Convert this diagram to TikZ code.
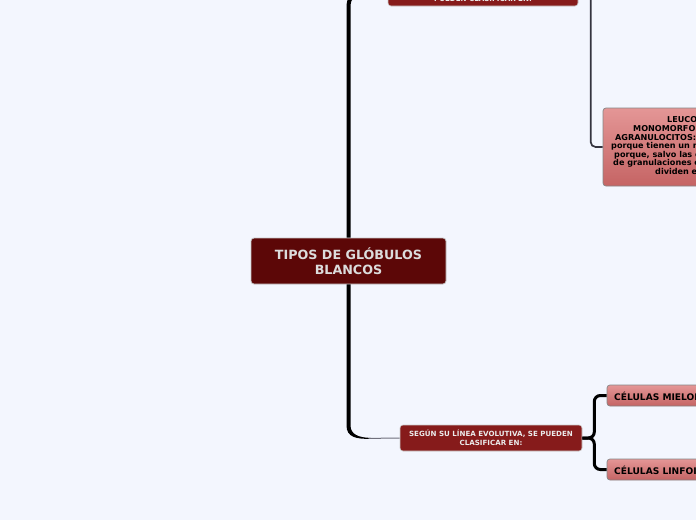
\documentclass[tikz,border=0pt]{standalone}
\usepackage{fontspec}
\setmainfont{DejaVu Sans}
\usetikzlibrary{calc}
\definecolor{bg}{HTML}{F3F6FE}
\definecolor{maroon}{HTML}{5C0707}
\definecolor{boxred}{HTML}{861B1B}
\definecolor{pinktop}{HTML}{E49696}
\definecolor{pinkbot}{HTML}{C56464}
\definecolor{pinkline}{HTML}{858585}
\definecolor{centertext}{HTML}{DCDCDC}
\definecolor{wire}{HTML}{34343F}
\definecolor{thinwire}{HTML}{70707C}
\begin{document}
\begin{tikzpicture}[x=1pt,y=-1pt,
  mainbox/.style={draw=gray!45, line width=0.8pt, fill=maroon, rounded corners=3pt,
    text=centertext, font=\bfseries\fontsize{12.7}{15}\selectfont, align=center,
    minimum width=195pt, minimum height=46pt, inner sep=0pt},
  redbox/.style={draw=gray!40, line width=0.6pt, fill=boxred, rounded corners=3pt,
    text=white!92!black, font=\bfseries\fontsize{7.1}{9}\selectfont, align=center,
    minimum height=26pt, inner sep=0pt},
  pinkbox/.style={draw=pinkline, line width=0.7pt, top color=pinktop, bottom color=pinkbot,
    rounded corners=3pt, inner sep=0pt},
  pinktext/.style={anchor=west, inner sep=0pt, text=black, font=\bfseries\fontsize{8.1}{8.6}\selectfont},
  celltext/.style={anchor=west, inner sep=0pt, text=black, font=\bfseries\fontsize{9.1}{10}\selectfont},
  trunk/.style={line width=4pt, black},
  branch/.style={line width=3pt, black, rounded corners=6pt},
  wirebr/.style={line width=1.7pt, wire, rounded corners=5pt}
]
\useasboundingbox (0,0) rectangle (696,520);
\fill[bg] (0,0) rectangle (696,520);
\clip (0,0) rectangle (696,520);

% nodes
\node[mainbox] (central) at (348.5,261) {TIPOS DE GLÓBULOS\\BLANCOS};
\node[redbox, minimum width=190pt] (topn) at (483,-7) {};
\node[anchor=base, inner sep=0pt, text=white!92!black, font=\bfseries\fontsize{7.1}{9}\selectfont] (toptext) at (483,1) {PUEDEN CLASIFICAR EN:};
\node[redbox, minimum width=182pt] (botn) at (491,438) {SEGÚN SU LÍNEA EVOLUTIVA, SE PUEDEN\\CLASIFICAR EN:};

\node[pinkbox, minimum width=297pt, minimum height=78pt] (leuco) at (751.5,147) {};
\node[pinktext] (l1) at (667,120) {LEUCOC};
\node[pinktext] (l2) at (633,128.6) {MONOMORFON};
\node[pinktext] (l3) at (615,137.2) {AGRANULOCITOS:};
\node[pinktext] (l4) at (611,146) {porque tienen un nú};
\node[pinktext] (l5) at (614,154.6) {porque, salvo las cé};
\node[pinktext] (l6) at (613,163.2) {de granulaciones ci};
\node[pinktext] (l7) at (655,171.8) {dividen en};

\node[pinkbox, minimum width=300pt, minimum height=21pt] (mielo) at (757,395.5) {};
\node[celltext] (mielotext) at (614,396) {CÉLULAS MIELOI};
\node[pinkbox, minimum width=300pt, minimum height=21pt] (linfo) at (757,469.5) {};
\node[celltext] (linfotext) at (614,470) {CÉLULAS LINFOI};

% connectors
\draw[trunk, rounded corners=12pt] (central.north) |- (topn.west);
\fill[black]
  ($(central.south)+(-2,0)$) -- ($(central.south)+(-2,141)$)
  .. controls ($(central.south)+(-2,153)$) and ($(central.south)+(8,154.6)$) .. ($(central.south)+(22,154.5)$)
  -- ($(central.south)+(22,153.5)$)
  .. controls ($(central.south)+(10,153.2)$) and ($(central.south)+(2,150)$) .. ($(central.south)+(2,141)$)
  -- ($(central.south)+(2,0)$) -- cycle;
\coordinate (tipend) at ($(central.south)+(20,154)$);
\draw[thinwire, line width=1pt] (tipend) -- (botn.west);

\draw[wirebr] (topn.east) -| ($(leuco.west)+(-12,0)$) -- (leuco.west);
\draw[branch] (botn.east) -- ++(12,0) |- (mielo.west);
\draw[branch] (botn.east) -- ++(12,0) |- (linfo.west);
\end{tikzpicture}
\end{document}
